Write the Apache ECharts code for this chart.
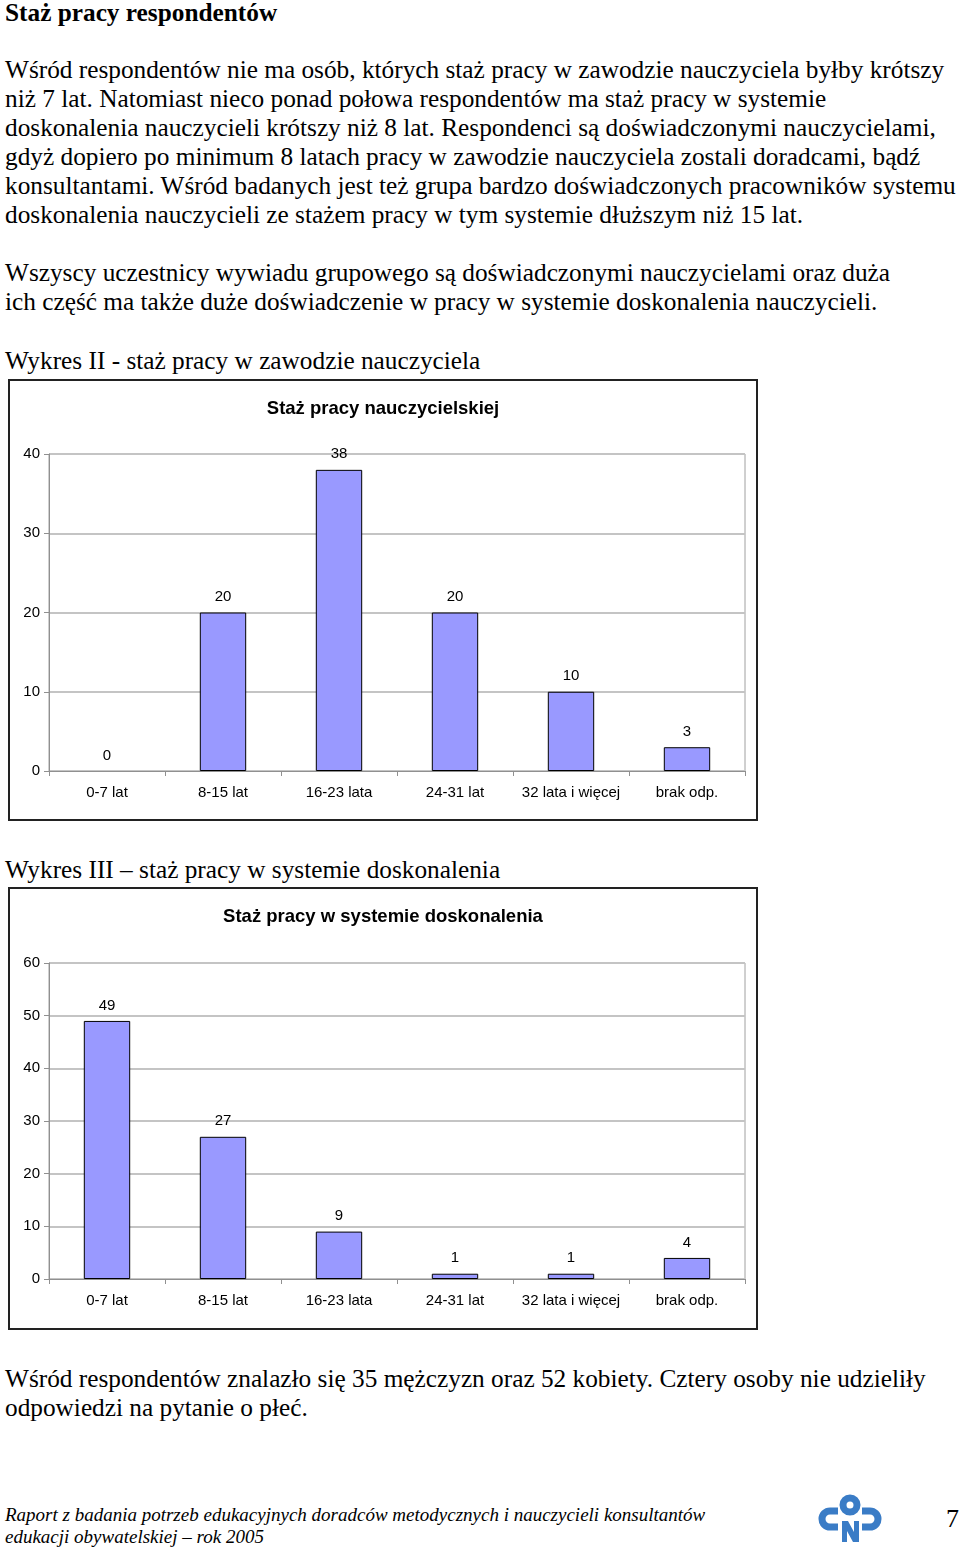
<!DOCTYPE html>
<html>
<head>
<meta charset="utf-8">
<script src="https://cdn.jsdelivr.net/npm/echarts@6/dist/echarts.min.js"></script>
<style>
  html, body { margin: 0; padding: 0; background: #fff; }
  body { width: 960px; height: 1548px; position: relative; overflow: hidden; font-family: "Liberation Serif", "Times New Roman", serif; color: #000; }
  .ln { position: absolute; left: 5px; white-space: nowrap; font-size: 25.3px; line-height: 29px; height: 29px; }
  .h { font-weight: bold; }
  .ft { font-style: italic; font-size: 19px; line-height: 22px; height: 22px; }
  .box { position: absolute; left: 8px; width: 750px; box-sizing: border-box; border: 2px solid #222; }
</style>
</head>
<body>
<div class="ln h" style="top:-2px">Staż pracy respondentów</div>

<div class="ln" style="top:55px">Wśród respondentów nie ma osób, których staż pracy w zawodzie nauczyciela byłby krótszy</div>
<div class="ln" style="top:84px">niż 7 lat. Natomiast nieco ponad połowa respondentów ma staż pracy w systemie</div>
<div class="ln" style="top:113px">doskonalenia nauczycieli krótszy niż 8 lat. Respondenci są doświadczonymi nauczycielami,</div>
<div class="ln" style="top:142px">gdyż dopiero po minimum 8 latach pracy w zawodzie nauczyciela zostali doradcami, bądź</div>
<div class="ln" style="top:171px">konsultantami. Wśród badanych jest też grupa bardzo doświadczonych pracowników systemu</div>
<div class="ln" style="top:200px">doskonalenia nauczycieli ze stażem pracy w tym systemie dłuższym niż 15 lat.</div>

<div class="ln" style="top:258px">Wszyscy uczestnicy wywiadu grupowego są doświadczonymi nauczycielami oraz duża</div>
<div class="ln" style="top:287px">ich część ma także duże doświadczenie w pracy w systemie doskonalenia nauczycieli.</div>

<div class="ln" style="top:346px">Wykres II - staż pracy w zawodzie nauczyciela</div>
<div id="chart1" class="box" style="top:379px;height:442px"></div>

<div class="ln" style="top:855px">Wykres III – staż pracy w systemie doskonalenia</div>
<div id="chart2" class="box" style="top:887px;height:443px"></div>

<div class="ln" style="top:1364px">Wśród respondentów znalazło się 35 mężczyzn oraz 52 kobiety. Cztery osoby nie udzieliły</div>
<div class="ln" style="top:1393px">odpowiedzi na pytanie o płeć.</div>

<div class="ln ft" style="top:1504px">Raport z badania potrzeb edukacyjnych doradców metodycznych i nauczycieli konsultantów</div>
<div class="ln ft" style="top:1526px">edukacji obywatelskiej – rok 2005</div>

<svg style="position:absolute;left:818px;top:1494px" width="64" height="50" viewBox="0 0 64 50">
  <g fill="none" stroke="#3a7cc6" stroke-width="7">
    <circle cx="32" cy="11" r="7"/>
    <path d="M20 17 H12 A8 8 0 0 0 12 33 H20"/>
    <path d="M44 17 H52 A8 8 0 0 1 52 33 H44"/>
  </g>
  <path d="M24 27 H30 L36 38 V27 H41 V48 H35 L29 37 V48 H24 Z" fill="#3a7cc6"/>
</svg>
<div class="ln" style="left:946px;top:1504px;font-size:26px">7</div>

<script>
const categories = ['0-7 lat', '8-15 lat', '16-23 lata', '24-31 lat', '32 lata i więcej', 'brak odp.']
const stazNauczycielski = [0, 20, 38, 20, 10, 3]
const stazDoskonalenie = [49, 27, 9, 1, 1, 4]

function makeChart(id, title, values, max, interval, top, height) {
    const chart = echarts.init(document.getElementById(id))
    const font = '"Liberation Sans", Arial, sans-serif'
    // a zero bar has no visible outline in the original
    const data = values.map(v => v === 0 ? { value: v, itemStyle: { borderWidth: 0 } } : v)
    chart.setOption({
        animation: false,
        title: {
            text: title,
            left: 'center',
            top: 13,
            textStyle: { fontFamily: font, fontSize: 18.5, fontWeight: 'bold', color: '#000' }
        },
        grid: {
            left: 39, width: 696, top: top, height: height,
            show: true, borderColor: '#a0a0a0', borderWidth: 1
        },
        xAxis: {
            type: 'category',
            data: categories,
            axisLine: { lineStyle: { color: '#909090', width: 1 } },
            axisTick: { show: true, length: 5, lineStyle: { color: '#909090' } },
            axisLabel: { interval: 0, color: '#000', fontFamily: font, fontSize: 15, margin: 14 }
        },
        yAxis: {
            type: 'value',
            min: 0, max: max, interval: interval,
            axisLine: { show: true, lineStyle: { color: '#909090', width: 1 } },
            axisTick: { show: true, length: 5, lineStyle: { color: '#909090' } },
            axisLabel: { color: '#000', fontFamily: font, fontSize: 15, margin: 9 },
            splitLine: { lineStyle: { color: '#c4c4c4', width: 2 } }
        },
        series: [{
            type: 'bar',
            data: data,
            barWidth: '40%',
            itemStyle: { color: '#9999ff', borderColor: '#000', borderWidth: 1 },
            label: {
                show: true, position: 'top', distance: 8,
                color: '#000', fontFamily: font, fontSize: 15
            }
        }]
    })
}

makeChart('chart1', 'Staż pracy nauczycielskiej', stazNauczycielski, 40, 10, 73, 317)
makeChart('chart2', 'Staż pracy w systemie doskonalenia', stazDoskonalenie, 60, 10, 74, 316)
</script>
</body>
</html>
